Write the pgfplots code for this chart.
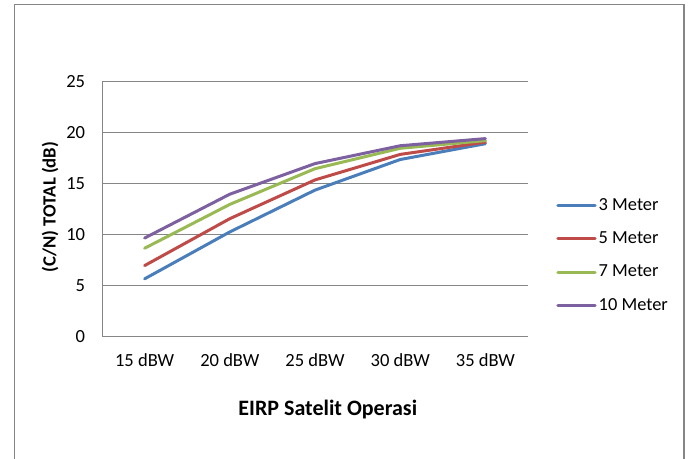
\documentclass[border=0pt]{standalone}
\usepackage{pgfplots}
\pgfplotsset{compat=1.18}
\usepackage{fontspec}
\setmainfont{Carlito}
\definecolor{s3}{HTML}{4A7EBB}
\definecolor{s5}{HTML}{BE4B48}
\definecolor{s7}{HTML}{98B954}
\definecolor{s10}{HTML}{7D60A0}
\definecolor{framegray}{HTML}{868686}
\begin{document}
\begin{tikzpicture}[x=0.75pt,y=0.75pt]
\path[use as bounding box] (0,0) rectangle (691,459);
% chart area border
\draw[framegray, line width=1pt] (14.5,0) -- (14.5,454.5) -- (684,454.5) -- (684,0);
\begin{axis}[
  at={(76.5pt,91.5pt)}, anchor=south west,
  scale only axis, width=319.5pt, height=191.25pt,
  xmin=-0.5, xmax=4.5, ymin=0, ymax=25,
  xtick={0,...,4},
  xticklabels={15 dBW,20 dBW,25 dBW,30 dBW,35 dBW},
  ytick={0,5,...,25},
  ymajorgrids, grid style={framegray, line width=0.75pt},
  axis x line*=bottom, axis y line*=left,
  axis line style={framegray, line width=0.75pt, -},
  major tick length=0pt,
  tick label style={font=\fontsize{13.9}{16}\selectfont},
  /pgf/number format/assume math mode=true,
  yticklabel style={inner sep=0pt, xshift=-12.5pt},
  xticklabel style={inner sep=0pt, yshift=-12pt},
  xlabel={\bfseries EIRP Satelit Operasi},
  xlabel style={font=\fontsize{16.5}{19}\selectfont, at={(axis description cs:0.530,-0.286)}, anchor=center},
  ylabel={\bfseries (C/N) TOTAL (dB)},
  ylabel style={font=\fontsize{14}{16}\selectfont, at={(axis description cs:-0.122,0.51)}, anchor=center},
  every axis plot/.append style={line width=2.25pt, line cap=round, line join=round},
  legend image code/.code={\draw[#1] (0pt,0pt) -- (28pt,0pt);},
  legend cell align=left,
  legend style={at={(1.066,0.32)}, anchor=west, draw=none, fill=none, inner sep=0pt,
    row sep=12pt, font=\fontsize{13.8}{16}\selectfont,
    nodes={inner sep=0pt, inner xsep=1.5pt, text height=10pt, text depth=3pt}},
]
\addplot[s3] coordinates {(0,5.7) (1,10.3) (2,14.4) (3,17.4) (4,18.95)};
\addlegendentry{3 Meter}
\addplot[s5] coordinates {(0,7.0) (1,11.6) (2,15.4) (3,17.9) (4,19.1)};
\addlegendentry{5 Meter}
\addplot[s7] coordinates {(0,8.7) (1,13.0) (2,16.5) (3,18.5) (4,19.25)};
\addlegendentry{7 Meter}
\addplot[s10] coordinates {(0,9.7) (1,14.0) (2,17.0) (3,18.75) (4,19.45)};
\addlegendentry{10 Meter}
\end{axis}
\end{tikzpicture}
\end{document}
